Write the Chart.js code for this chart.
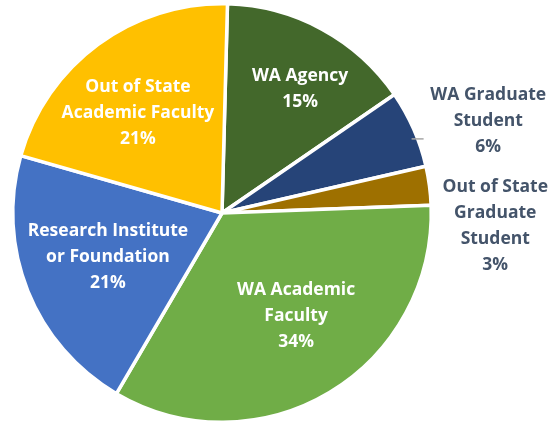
<!DOCTYPE html>
<html>
<head>
<meta charset="utf-8">
<script src="https://cdn.jsdelivr.net/npm/chart.js@4"></script>
<style>
  html, body { margin: 0; padding: 0; background: #fff; }
  #wrap { width: 555px; height: 425px; position: relative; }
</style>
</head>
<body>
<div id="wrap"><canvas id="chart"></canvas></div>
<script>
"use strict";

// Slice order: clockwise from 12 o'clock
const labels = [
  ["WA Agency"],
  ["WA Graduate", "Student"],
  ["Out of State", "Graduate", "Student"],
  ["WA Academic", "Faculty"],
  ["Research Institute", "or Foundation"],
  ["Out of State", "Academic Faculty"],
];
const shares = [15, 6, 3, 34, 21, 21];
const colors = ["#43682B", "#264478", "#9E7000", "#70AD47", "#4472C4", "#FFC000"];
const outside = [false, true, true, false, false, false];

const FONT = "bold 17.5px 'Open Sans', Lato, sans-serif";
const LINE_H = 26;

// inside labels: fraction of radius + angle nudge (deg); outside labels: offset from the rim
const insideFrac = [0.70, 0, 0, 0.607, 0.585, 0.625];
const angleNudge = [3.7, 0, 0, -4.8, 0.6, -3.7];
const outsideOffset = { 1: [57, -92], 2: [64, 13] };

const sliceLabels = {
  id: "sliceLabels",
  afterDatasetsDraw(chart) {
    const ctx = chart.ctx;
    const meta = chart.getDatasetMeta(0);
    ctx.save();
    ctx.font = FONT;
    ctx.textAlign = "center";
    ctx.textBaseline = "middle";
    meta.data.forEach((arc, i) => {
      const p = arc.getProps(["x", "y", "startAngle", "endAngle", "outerRadius"], true);
      const mid = (p.startAngle + p.endAngle) / 2;
      const lines = labels[i].concat([shares[i] + "%"]);
      let cx, cy;
      if (outside[i]) {
        const ex = p.x + p.outerRadius * Math.cos(mid);
        const ey = p.y + p.outerRadius * Math.sin(mid);
        const off = outsideOffset[i];
        cx = p.x + p.outerRadius + off[0];
        cy = p.y + off[1];
        ctx.fillStyle = "#44546A";
        if (i === 1) {
          ctx.strokeStyle = "#A6A6A6";
          ctx.lineWidth = 1.5;
          ctx.beginPath();
          ctx.moveTo(ex - 2, ey + 10);
          ctx.lineTo(ex + 10, ey + 10);
          ctx.stroke();
        }
      } else {
        const a = mid + angleNudge[i] * Math.PI / 180;
        const r = p.outerRadius * insideFrac[i];
        cx = p.x + r * Math.cos(a);
        cy = p.y + r * Math.sin(a);
        ctx.fillStyle = "#FFFFFF";
      }
      const top = cy - (lines.length - 1) * LINE_H / 2;
      lines.forEach((t, k) => ctx.fillText(t, cx, top + k * LINE_H));
    });
    ctx.restore();
  },
};

new Chart(document.getElementById("chart"), {
  type: "pie",
  data: {
    labels: labels.map((l) => l.join(" ")),
    datasets: [{
      data: shares,
      backgroundColor: colors,
      borderColor: "#FFFFFF",
      borderWidth: 3.5,
    }],
  },
  options: {
    responsive: true,
    maintainAspectRatio: false,
    animation: false,
    rotation: 1.5,
    layout: { padding: { left: 11, right: 122, top: 2, bottom: 1 } },
    plugins: { legend: { display: false }, tooltip: { enabled: false } },
  },
  plugins: [sliceLabels],
});
</script>
</body>
</html>
